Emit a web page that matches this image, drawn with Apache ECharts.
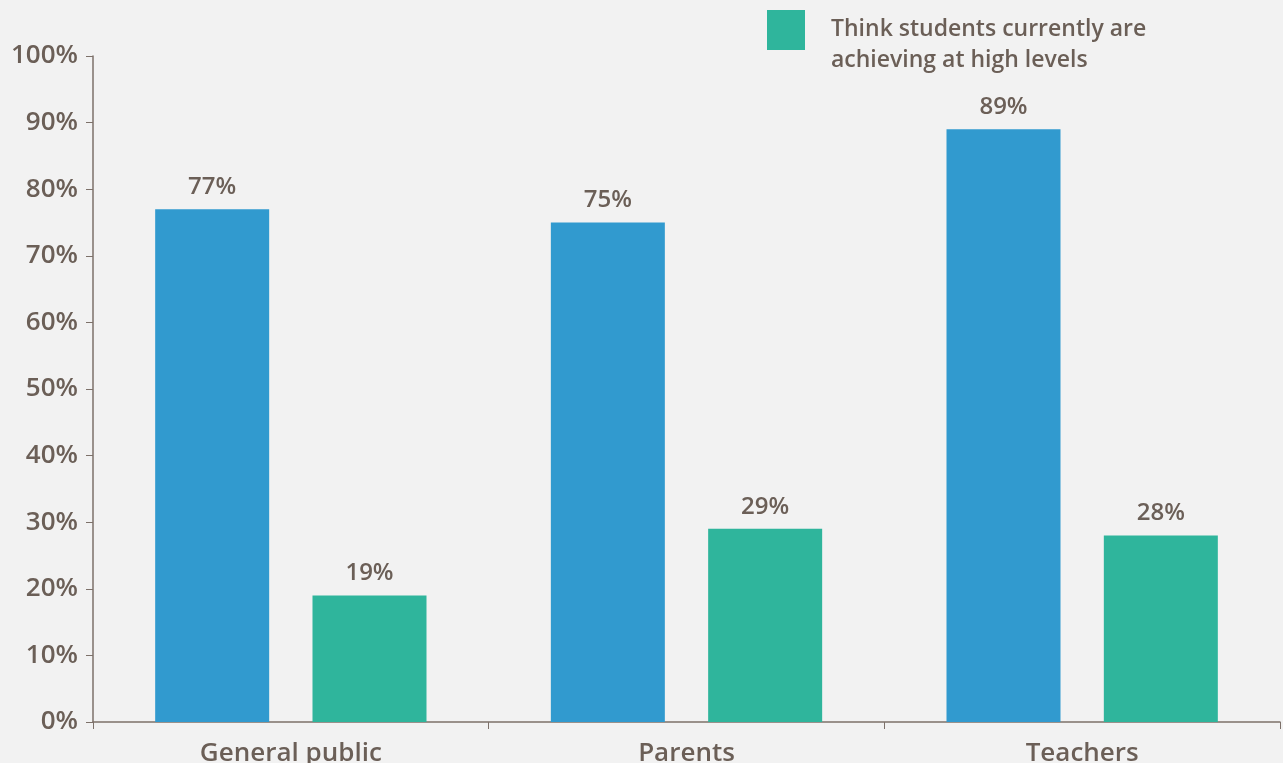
<!DOCTYPE html>
<html>
<head>
<meta charset="utf-8">
<script src="https://cdn.jsdelivr.net/npm/echarts@6/dist/echarts.min.js"></script>
<style>
  html, body { margin: 0; padding: 0; background: #f2f2f2; }
  #chart { width: 1283px; height: 763px; }
</style>
</head>
<body>
<div id="chart"></div>
<script>
// Survey groups along the x-axis
const categories = ['General public', 'Parents', 'Teachers'];
// Share (%) per group for each series
const importantValues = [77, 75, 89];
const achievingValues = [19, 29, 28];
const achievingLines = ['Think students currently are', 'achieving at high levels'];
const achievingName = achievingLines.join(' ');
const importantName = 'Think it is important for students to achieve at high levels';

const textColor = '#6b5f57';
const axisColor = '#7d716a';
const font = '"Open Sans", Lato, sans-serif';

const chart = echarts.init(document.getElementById('chart'));

const labelCfg = {
  show: true,
  position: 'top',
  distance: 10,
  formatter: '{c}%',
  color: textColor,
  fontFamily: font,
  fontSize: 24,
  fontWeight: 600
};

chart.setOption({
  backgroundColor: '#f2f2f2',
  animation: false,
  grid: { left: 93, right: 3, top: 56, bottom: 41, containLabel: false, outerBoundsMode: 'none' },
  legend: {
    data: [achievingName],
    left: 767,
    top: -6,
    padding: 0,
    itemWidth: 38,
    itemHeight: 40,
    icon: 'rect',
    // spacer line keeps the swatch level with the first text line
    formatter: () => '{s| }\n' + achievingLines.map(l => '{t|' + l + '}').join('\n'),
    textStyle: {
      color: textColor,
      fontFamily: font,
      fontSize: 23,
      fontWeight: 600,
      padding: [0, 0, 0, 21],
      rich: {
        s: { lineHeight: 30, fontSize: 10 },
        t: { lineHeight: 31, fontSize: 23, fontWeight: 600, fontFamily: font, color: textColor }
      }
    }
  },
  xAxis: {
    type: 'category',
    data: categories,
    axisLine: { lineStyle: { color: axisColor, width: 1.5 } },
    axisTick: { show: true, length: 7, lineStyle: { color: axisColor } },
    axisLabel: {
      color: textColor,
      fontFamily: font,
      fontSize: 26,
      fontWeight: 600,
      margin: 19
    }
  },
  yAxis: {
    type: 'value',
    min: 0,
    max: 100,
    interval: 10,
    splitLine: { show: false },
    axisLine: { show: true, lineStyle: { color: axisColor, width: 1.5 } },
    axisTick: { show: true, length: 7, lineStyle: { color: axisColor } },
    axisLabel: {
      formatter: '{value}%',
      color: textColor,
      fontFamily: font,
      fontSize: 26,
      fontWeight: 600,
      margin: 15
    }
  },
  series: [
    {
      name: importantName,
      type: 'bar',
      data: importantValues,
      barWidth: 114,
      barGap: '38%',
      itemStyle: { color: '#319acf' },
      label: labelCfg
    },
    {
      name: achievingName,
      type: 'bar',
      data: achievingValues,
      barWidth: 114,
      barGap: '38%',
      itemStyle: { color: '#2fb59c' },
      label: labelCfg
    }
  ]
});
</script>
</body>
</html>
